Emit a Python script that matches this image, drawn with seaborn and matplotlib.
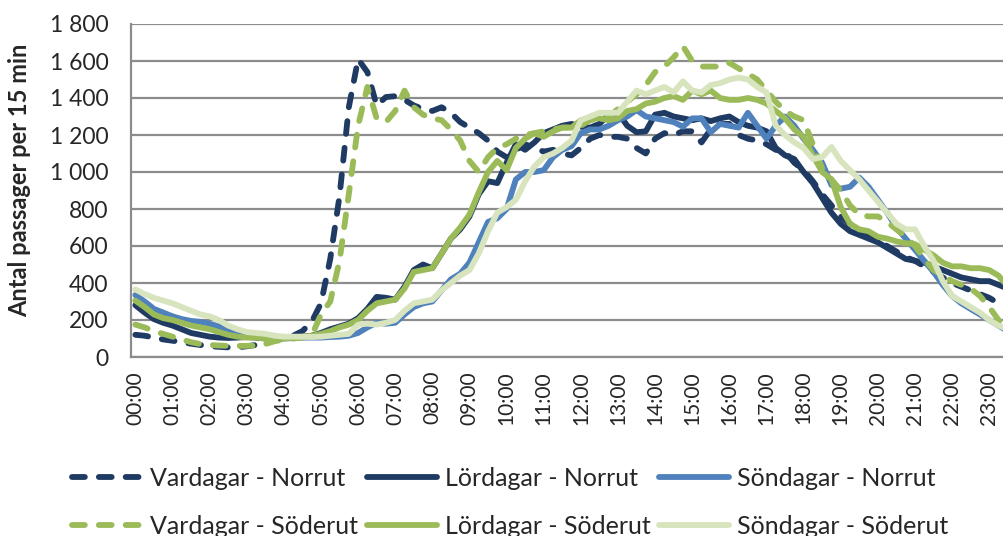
import matplotlib
matplotlib.use("Agg")
import matplotlib.pyplot as plt
import matplotlib.ticker as mticker
import numpy as np
import pandas as pd
import seaborn as sns

# ── Data: passages per 15 min, 00:00 .. 23:45 ─────────────────────────────
times = [f"{h:02d}:{m:02d}" for h in range(24) for m in (0, 15, 30, 45)]

vardagar_norrut = [
    120, 115, 105, 95, 88, 80, 72, 65, 58, 55, 52, 52,
    58, 65, 75, 90, 100, 115, 140, 190, 290, 530, 870, 1350,
    1610, 1540, 1360, 1405, 1410, 1390, 1360, 1340, 1330, 1350, 1320, 1270,
    1240, 1210, 1170, 1110, 1080, 1120, 1150, 1130, 1110, 1120, 1100, 1090,
    1130, 1180, 1200, 1190, 1190, 1180, 1130, 1100, 1180, 1210, 1200, 1220,
    1220, 1160, 1230, 1260, 1260, 1200, 1180, 1170, 1150, 1120, 1110, 1050,
    1010, 950, 880, 820, 760, 720, 680, 650, 620, 600, 570, 540,
    520, 490, 460, 430, 400, 380, 360, 340, 320, 290, 260, 230,
]
lordagar_norrut = [
    280, 240, 205, 185, 170, 150, 130, 120, 110, 105, 103, 105,
    108, 105, 100, 100, 105, 110, 110, 115, 130, 150, 165, 180,
    210, 260, 325, 320, 310, 380, 470, 500, 480, 560, 640, 690,
    760, 880, 950, 940, 1050, 1150, 1120, 1160, 1210, 1230, 1250, 1260,
    1245, 1240, 1260, 1310, 1320, 1250, 1215, 1220, 1310, 1320, 1300, 1290,
    1280, 1290, 1275, 1290, 1300, 1270, 1250, 1240, 1220, 1130, 1090, 1070,
    1000, 940, 860, 780, 720, 680, 660, 640, 620, 590, 560, 530,
    520, 510, 490, 470, 450, 430, 420, 410, 410, 390, 370, 350,
]
sondagar_norrut = [
    335, 300, 260, 240, 220, 205, 195, 190, 180, 165, 140, 125,
    115, 110, 105, 100, 100, 102, 105, 105, 105, 108, 110, 115,
    130, 160, 185, 180, 185, 230, 270, 290, 300, 360, 420, 450,
    510, 620, 730, 750, 800, 960, 1000, 1000, 1010, 1080, 1120, 1140,
    1210, 1230, 1230, 1250, 1280, 1300, 1335, 1300, 1290, 1280, 1270, 1245,
    1290, 1290, 1215, 1260, 1250, 1240, 1320, 1250, 1180, 1250, 1300, 1250,
    1180, 1120, 1050, 930, 910, 920, 970, 920, 850, 780, 700, 640,
    580, 520, 460, 390, 330, 290, 260, 230, 200, 170, 140, 120,
]
vardagar_soderut = [
    175, 160, 140, 125, 110, 95, 80, 70, 65, 62, 60, 60,
    60, 62, 70, 85, 95, 100, 105, 115, 230, 300, 520, 880,
    1250, 1460, 1290, 1270, 1330, 1440, 1350, 1310, 1290, 1280, 1230, 1170,
    1060, 1000, 1080, 1130, 1150, 1180, 1200, 1210, 1220, 1230, 1240, 1240,
    1250, 1280, 1290, 1300, 1340, 1380, 1420, 1470, 1540, 1570, 1620, 1680,
    1600, 1570, 1570, 1570, 1590, 1560, 1530, 1500, 1440, 1380, 1330, 1300,
    1280, 1150, 1020, 960, 900, 820, 770, 760, 760, 730, 690, 650,
    600, 530, 470, 440, 410, 390, 370, 330, 270, 200, 160, 140,
]
lordagar_soderut = [
    305, 270, 230, 210, 200, 185, 170, 160, 150, 135, 120, 110,
    105, 105, 100, 100, 100, 105, 110, 115, 125, 140, 160, 175,
    200, 250, 290, 300, 310, 370, 460, 470, 480, 560, 640, 700,
    770, 890, 1000, 1060, 1010, 1130, 1180, 1210, 1190, 1220, 1240, 1240,
    1280, 1290, 1290, 1280, 1290, 1330, 1340, 1370, 1380, 1400, 1410, 1390,
    1440, 1420, 1440, 1400, 1390, 1390, 1400, 1390, 1370, 1330, 1290, 1230,
    1190, 1090, 1000, 960, 810, 720, 690, 680, 650, 640, 625, 615,
    610, 580, 550, 510, 490, 490, 480, 480, 470, 440, 380, 350,
]
sondagar_soderut = [
    365, 340, 320, 305, 290, 270, 250, 230, 220, 200, 170, 150,
    135, 130, 125, 115, 110, 110, 110, 108, 110, 115, 120, 125,
    175, 180, 175, 185, 200, 250, 290, 300, 310, 360, 400, 440,
    470, 560, 680, 780, 810, 850, 950, 1030, 1080, 1100, 1130, 1170,
    1280, 1300, 1320, 1320, 1320, 1380, 1440, 1420, 1440, 1460, 1430, 1490,
    1440, 1430, 1470, 1480, 1500, 1510, 1500, 1460, 1430, 1250, 1200, 1160,
    1130, 1070, 1080, 1135, 1060, 1010, 960, 900, 840, 780, 720, 690,
    690, 600, 520, 410, 330, 300, 270, 240, 200, 170, 150, 130,
]

series_names = [
    "Vardagar - Norrut", "Lördagar - Norrut", "Söndagar - Norrut",
    "Vardagar - Söderut", "Lördagar - Söderut", "Söndagar - Söderut",
]
series_values = [
    vardagar_norrut, lordagar_norrut, sondagar_norrut,
    vardagar_soderut, lordagar_soderut, sondagar_soderut,
]
colors = ["#1F3B63", "#1F3B63", "#4F81BD", "#9BBB59", "#9BBB59", "#D7E4BD"]
dashed = [True, False, False, True, False, False]

y_ticks = list(range(0, 2000, 200))

# ── Long table for seaborn ────────────────────────────────────────────────
rows = []
for name, vals in zip(series_names, series_values):
    for i, v in enumerate(vals):
        rows.append({"pos": i, "tid": times[i], "serie": name, "antal": v})
df = pd.DataFrame(rows)

sns.set_theme(style="white")
plt.rcParams["font.family"] = ["Lato", "DejaVu Sans"]

fig = plt.figure(figsize=(10.04, 5.36), dpi=100)
ax = fig.add_axes([130.7 / 1004, 179 / 536, 891 / 1004, 333 / 536])

palette = dict(zip(series_names, colors))
dash_map = {n: ((2.2, 2.4) if d else "") for n, d in zip(series_names, dashed)}
sns.lineplot(
    data=df, x="pos", y="antal", hue="serie", style="serie",
    hue_order=series_names, style_order=series_names,
    palette=palette, dashes=dash_map, linewidth=4.2, ax=ax, legend=False,
)
for line in ax.lines:
    line.set_dash_capstyle("round")
    line.set_solid_capstyle("round")
    line.set_solid_joinstyle("round")

grid_col = "#8C8C8C"
ax.set_xlim(-0.5, 95.5)
ax.set_ylim(0, 1800)
ax.set_yticks(y_ticks)
ax.yaxis.set_major_formatter(mticker.FuncFormatter(lambda v, _: f"{v:,.0f}".replace(",", " ")))
ax.yaxis.grid(True, color=grid_col, linewidth=1.6)
ax.set_axisbelow(True)
ax.tick_params(axis="y", length=6, width=1.4, color=grid_col, labelsize=16.5, pad=10)

ax.set_xticks(list(range(0, 96, 4)))
ax.set_xticklabels(times[::4], rotation=90)
ax.set_xticks(np.arange(-0.5, 96, 1), minor=True)
ax.tick_params(axis="x", which="major", length=0, labelsize=15, pad=10)
ax.tick_params(axis="x", which="minor", length=5, width=1.4, color=grid_col, direction="out")

for s in ["top", "right"]:
    ax.spines[s].set_visible(False)
for s in ["left", "bottom"]:
    ax.spines[s].set_color(grid_col)
    ax.spines[s].set_linewidth(1.6)

ax.set_xlabel("")
ax.set_ylabel("Antal passager per 15 min", fontsize=17, fontweight="bold")
ax.yaxis.set_label_coords((31 - 130.7) / 891, (357 - 180) / 333)

# legend: row-wise order in 3 columns
handles = ax.lines[:6]
order = [0, 3, 1, 4, 2, 5]
fig.legend(
    [handles[k] for k in order], [series_names[k] for k in order],
    ncol=3, loc="center", bbox_to_anchor=(0.508, 1 - 502 / 536),
    frameon=False, fontsize=18, handlelength=2.8, handletextpad=0.32,
    columnspacing=0.35, labelspacing=1.0,
)

fig.savefig("out.png", dpi=100)
